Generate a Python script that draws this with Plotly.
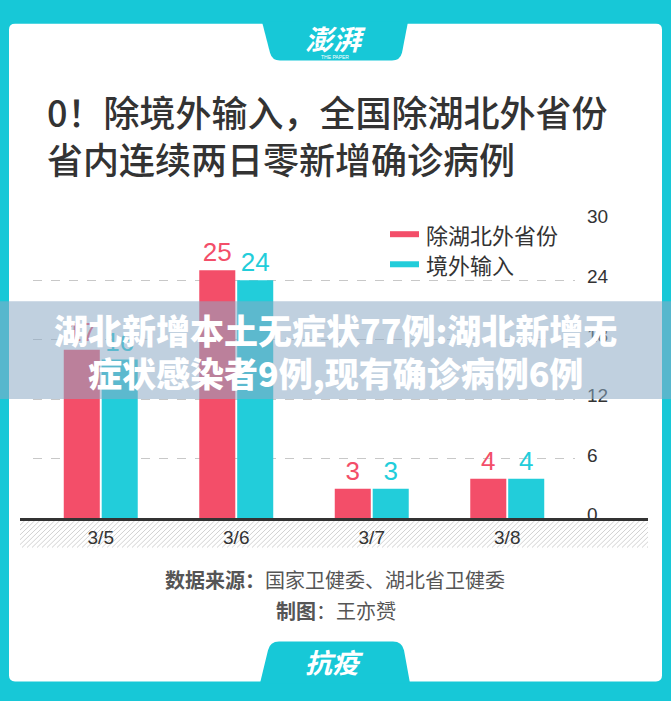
import plotly.graph_objects as go

W, H = 671, 701

# ---------------- data ----------------
categories = ["3/5", "3/6", "3/7", "3/8"]
series_names = ["除湖北外省份", "境外输入"]
other_provinces = [17, 25, 3, 4]
imported = [16, 24, 3, 4]
y_ticks = [0, 6, 12, 18, 24, 30]

title_lines = ["0！除境外输入，全国除湖北外省份", "省内连续两日零新增确诊病例"]
banner_lines = ["湖北新增本土无症状77例:湖北新增无", "症状感染者9例,现有确诊病例6例"]
source_text = "<b>数据来源：</b>国家卫健委、湖北省卫健委"
author_text = "<b>制图</b>：王亦赟"

# ---------------- styles ----------------
CYAN_FRAME = "#17C8D7"
RED = "#F34E69"
CYAN = "#22CDDA"
CJK = "Noto Sans CJK SC"
NUM = "Liberation Sans, Noto Sans CJK SC"


def fx(px):
    return px / W


def fy(py):
    return 1 - py / H


fig = go.Figure()
fig.add_bar(x=categories, y=other_provinces, name=series_names[0],
            marker=dict(color=RED, line=dict(width=0)),
            text=other_provinces, textposition="outside",
            textfont=dict(color=RED, size=26, family=NUM), cliponaxis=False)
fig.add_bar(x=categories, y=imported, name=series_names[1],
            marker=dict(color=CYAN, line=dict(width=0)),
            text=imported, textposition="outside",
            textfont=dict(color=CYAN, size=26, family=NUM), cliponaxis=False)

shapes = []
# white rounded panel
L, T, R, B, r = 9, 10, 662, 688, 6
panel = (f"M {fx(L+r)},{fy(T)} L {fx(R-r)},{fy(T)} Q {fx(R)},{fy(T)} {fx(R)},{fy(T+r)} "
         f"L {fx(R)},{fy(B-r)} Q {fx(R)},{fy(B)} {fx(R-r)},{fy(B)} "
         f"L {fx(L+r)},{fy(B)} Q {fx(L)},{fy(B)} {fx(L)},{fy(B-r)} "
         f"L {fx(L)},{fy(T+r)} Q {fx(L)},{fy(T)} {fx(L+r)},{fy(T)} Z")
shapes.append(dict(type="path", xref="paper", yref="paper", path=panel,
                   fillcolor="white", line=dict(width=0), layer="below"))
# top tab
tt = (f"M {fx(262)},{fy(8)} L {fx(408)},{fy(8)} L {fx(402)},{fy(40)} "
      f"Q {fx(400)},{fy(48)} {fx(392)},{fy(48)} L {fx(280)},{fy(48)} "
      f"Q {fx(272)},{fy(48)} {fx(270)},{fy(40)} Z")
shapes.append(dict(type="path", xref="paper", yref="paper", path=tt,
                   fillcolor=CYAN_FRAME, line=dict(width=0), layer="below"))
# bottom tab
bt = (f"M {fx(260)},{fy(690)} L {fx(410)},{fy(690)} L {fx(404)},{fy(656)} "
      f"Q {fx(402)},{fy(647)} {fx(393)},{fy(647)} L {fx(279)},{fy(647)} "
      f"Q {fx(270)},{fy(647)} {fx(268)},{fy(656)} Z")
shapes.append(dict(type="path", xref="paper", yref="paper", path=bt,
                   fillcolor=CYAN_FRAME, line=dict(width=0), layer="below"))

# hatched band under axis
hx0, hx1, hy0, hy1 = 20, 648, 522, 550
segs = []
step = 5
k = hx0 - (hy1 - hy0)
while k < hx1:
    xa, ya = k, hy1
    xb, yb = k + (hy1 - hy0), hy0
    if xa < hx0:
        ya = hy1 - (hx0 - xa)
        xa = hx0
    if xb > hx1:
        yb = hy0 + (xb - hx1)
        xb = hx1
    segs.append(f"M {fx(xa)},{fy(ya)} L {fx(xb)},{fy(yb)}")
    k += step
shapes.append(dict(type="path", xref="paper", yref="paper", path=" ".join(segs),
                   line=dict(color="#D2D2D2", width=1), layer="below"))
# axis baseline
shapes.append(dict(type="line", xref="paper", yref="paper",
                   x0=fx(20), x1=fx(648), y0=fy(521), y1=fy(521),
                   line=dict(color="#333333", width=3), layer="above"))
# legend markers
for i, (col, yy) in enumerate([(RED, 227), (CYAN, 258)]):
    shapes.append(dict(type="line", xref="paper", yref="paper",
                       x0=fx(390), x1=fx(419), y0=fy(yy), y1=fy(yy),
                       line=dict(color=col, width=6), layer="above"))
# banner overlay
shapes.append(dict(type="rect", xref="paper", yref="paper",
                   x0=0, x1=1, y0=fy(397), y1=fy(296),
                   fillcolor="rgba(140,170,196,0.55)", line=dict(width=0), layer="above"))

ann = []
for i, t in enumerate(title_lines):
    ann.append(dict(text=t, x=fx(45), y=fy([100, 148][i]), xref="paper", yref="paper",
                    xanchor="left", yanchor="middle", showarrow=False,
                    font=dict(family=CJK, size=36, color="#333333", weight=500)))
for i, (name, yy) in enumerate(zip(series_names, [227, 258])):
    ann.append(dict(text=name, x=fx(424), y=fy(yy), xref="paper", yref="paper",
                    xanchor="left", yanchor="middle", showarrow=False,
                    font=dict(family=CJK, size=22, color="#333333")))
for i, t in enumerate(banner_lines):
    ann.append(dict(text=t, x=0.5, y=fy([325, 370][i]), xref="paper", yref="paper",
                    xanchor="center", yanchor="middle", showarrow=False,
                    font=dict(family=CJK, size=34, color="white", weight=900)))
ann.append(dict(text=source_text, x=fx(335), y=fy(583), xref="paper", yref="paper",
                xanchor="center", yanchor="middle", showarrow=False,
                font=dict(family=CJK, size=20, color="#555555")))
ann.append(dict(text=author_text, x=fx(336), y=fy(615), xref="paper", yref="paper",
                xanchor="center", yanchor="middle", showarrow=False,
                font=dict(family=CJK, size=20, color="#555555")))
ann.append(dict(text="<i><b>澎湃</b></i>", x=fx(335), y=fy(25), xref="paper", yref="paper",
                xanchor="center", yanchor="middle", showarrow=False,
                font=dict(family=CJK, size=28, color="white")))
ann.append(dict(text="THE PAPER", x=fx(335), y=fy(44), xref="paper", yref="paper",
                xanchor="center", yanchor="middle", showarrow=False,
                font=dict(family=NUM, size=5, color="white")))
ann.append(dict(text="<i><b>抗疫</b></i>", x=fx(334), y=fy(668), xref="paper", yref="paper",
                xanchor="center", yanchor="middle", showarrow=False,
                font=dict(family=CJK, size=27, color="white")))

fig.update_layout(
    width=W, height=H, margin=dict(l=0, r=0, t=0, b=0),
    paper_bgcolor=CYAN_FRAME, plot_bgcolor="rgba(0,0,0,0)",
    showlegend=False, barmode="group", bargap=0.44, bargroupgap=0.05,
    shapes=shapes, annotations=ann,
    xaxis=dict(domain=[fx(33), fx(575)], range=[-0.5, 3.5], type="category",
               showgrid=False, showline=False, zeroline=False, ticks="",
               ticklabelstandoff=6,
               tickfont=dict(family=NUM, size=19, color="#333333")),
    yaxis=dict(domain=[fy(520), fy(213)], range=[0, 30], side="right",
               tickvals=y_ticks, showgrid=True, gridcolor="#C8C8C8",
               griddash="dash", gridwidth=1, zeroline=False, showline=False,
               ticks="", ticklabelstandoff=11, ticklabelshift=-4,
               tickfont=dict(family=NUM, size=19, color="#333333")),
)

fig.write_html("out.html")
